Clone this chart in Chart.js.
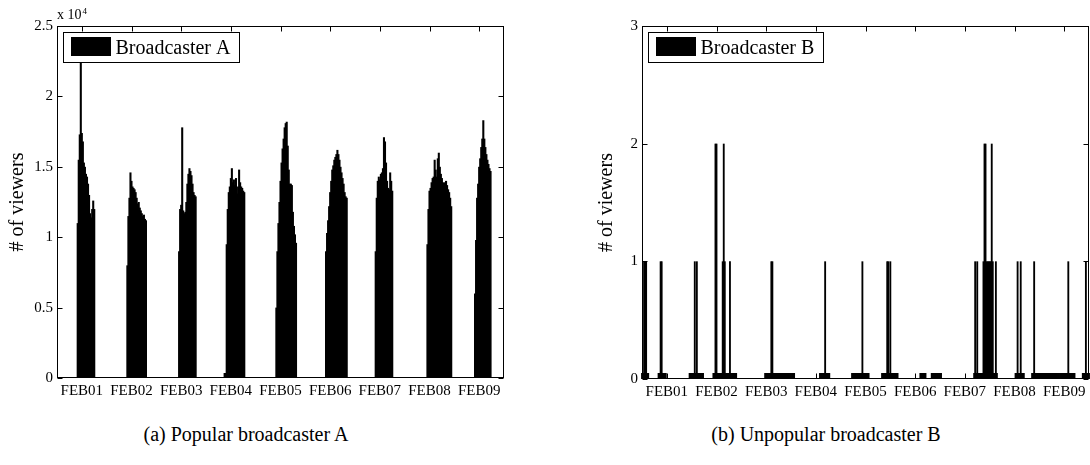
<!DOCTYPE html>
<html>
<head>
<meta charset="utf-8">
<script src="https://cdn.jsdelivr.net/npm/chart.js@4.4.1/dist/chart.umd.min.js"></script>
<style>
  html, body { margin: 0; padding: 0; background: #fff; }
  body { width: 1090px; height: 465px; position: relative; overflow: hidden; font-family: 'Liberation Serif', 'Times New Roman', serif; }
  .panel { position: absolute; top: 0; }
  .panel canvas { display: block; }
  .caption { position: absolute; top: 423px; font-size: 20px; white-space: nowrap; transform: translateX(-50%); color: #000; }
</style>
</head>
<body>
<div class="panel" style="left:0"><canvas id="chartA" width="540" height="400"></canvas></div>
<div class="panel" style="left:585px"><canvas id="chartB" width="505" height="400"></canvas></div>
<div class="caption" style="left:246px">(a) Popular broadcaster A</div>
<div class="caption" style="left:826px">(b) Unpopular broadcaster B</div>
<script>
// ---- data ----
const dayTicks = [1, 2, 3, 4, 5, 6, 7, 8, 9];
const dayLabels = ['FEB01', 'FEB02', 'FEB03', 'FEB04', 'FEB05', 'FEB06', 'FEB07', 'FEB08', 'FEB09'];

// Broadcaster A: start hour of each session (hours from JAN31 00:00), viewers every 30 min
const aStartHour = [22, 46, 71, 93, 118, 142, 166, 191, 214];
const aDay1 = [11000, 15500, 17300, 22500, 17400, 16800, 15300, 15000, 14500, 14300, 13800, 13000, 11700, 11400, 12000, 12600, 12000];
const aDay2 = [8000, 11500, 12800, 14600, 14000, 13600, 13500, 13400, 13200, 12800, 12400, 12500, 12100, 11900, 11700, 11500, 11600, 11300, 11200];
const aDay3 = [9000, 12000, 12300, 17800, 11900, 11700, 11800, 12500, 13800, 14500, 14900, 14700, 14400, 13800, 13200, 13000, 12900];
const aDay4 = [0, 0, 9500, 12000, 13200, 13600, 14200, 14900, 13900, 14100, 13700, 14200, 13100, 13600, 14800, 13900, 13600, 13500, 13300, 13200];
const aDay5 = [5000, 9000, 11000, 12500, 14000, 15300, 16300, 17000, 17800, 18100, 18200, 16500, 14800, 13800, 13800, 13700, 11800, 10800, 10200, 9600];
const aDay6 = [9000, 10300, 11200, 12200, 13200, 14000, 14800, 15100, 15500, 15700, 15900, 16200, 15900, 15500, 15000, 14600, 14200, 13800, 13200, 12900, 12800];
const aDay7 = [9000, 12800, 14000, 14300, 14100, 14500, 14600, 14900, 17100, 16800, 15300, 14000, 13500, 13400, 14600, 14000, 13300];
const aDay8 = [9500, 12000, 13300, 13500, 13900, 14200, 14300, 15500, 14800, 14300, 15600, 16000, 15000, 14500, 14200, 13900, 13600, 13900, 14000, 13700, 13400, 13200, 12800, 12200];
const aDay9 = [6000, 9800, 12800, 13800, 15000, 15600, 16400, 17000, 18300, 17000, 16400, 15900, 15500, 15200, 14900, 14700];
const aSessions = [aDay1, aDay2, aDay3, aDay4, aDay5, aDay6, aDay7, aDay8, aDay9];

// Broadcaster B: on-air periods (start/end hour) and the 30-min slots that had viewers
const bOnStart = [12, 20, 35, 46.5, 71.5, 98, 113.5, 128, 146.5, 152, 172.5, 192.5, 200.5, 225];
const bOnEnd = [15, 23.5, 41.5, 57.5, 85.5, 102.5, 121.5, 135.5, 149, 156.5, 183.5, 196.5, 221, 228];
const bHitHour = [13, 13.5, 14, 21, 21.5, 37.5, 38.5, 47.5, 48, 51, 51.5, 52, 54.5, 74.5, 75, 100.5, 118.5,
  130.5, 131, 132, 173, 174, 177, 177.5, 178, 178.5, 179, 179.5, 180, 180.5, 181, 181.5, 183,
  193.5, 195, 201.5, 218, 226.5];
const bHitCount = [1, 1, 1, 1, 1, 1, 1, 2, 2, 1, 2, 1, 1, 1, 1, 1, 1,
  1, 1, 1, 1, 1, 1, 2, 2, 1, 1, 1, 1, 1, 2, 1, 1,
  1, 1, 1, 1, 1];

// ---- build points (x in days) ----
const pointsA = [];
aSessions.forEach((vals, i) => {
  vals.forEach((v, j) => pointsA.push({ x: (aStartHour[i] + j * 0.5) / 24, y: v }));
});

const pointsB = [];
bOnStart.forEach((s, i) => {
  for (let h = s; h <= bOnEnd[i]; h += 0.5) {
    const k = bHitHour.indexOf(h);
    pointsB.push({ x: h / 24, y: k >= 0 ? bHitCount[k] : 0 });
  }
});

const FONT = "'Liberation Serif', 'Times New Roman', serif";
Chart.defaults.font.family = FONT;
Chart.defaults.color = '#000';

// MATLAB-like box: frame, inward ticks on all sides, boxed legend, exponent label
const axesBox = {
  id: 'axesBox',
  afterDatasetsDraw(chart, args, opts) {
    const ctx = chart.ctx;
    const a = chart.chartArea;
    const xs = chart.scales.x, ys = chart.scales.y;
    const L = Math.round(a.left) + 0.5, R = Math.round(a.right) - 0.5;
    const T = Math.round(a.top) + 0.5, B = Math.round(a.bottom) - 0.5;
    ctx.save();
    ctx.strokeStyle = '#000';
    ctx.lineWidth = 1;
    ctx.strokeRect(L, T, R - L, B - T);
    ctx.beginPath();
    xs.ticks.forEach(t => {
      const px = Math.round(xs.getPixelForValue(t.value)) + 0.5;
      ctx.moveTo(px, T); ctx.lineTo(px, T + 5);
      ctx.moveTo(px, B); ctx.lineTo(px, B - 5);
    });
    ys.ticks.forEach(t => {
      const py = Math.round(ys.getPixelForValue(t.value)) + 0.5;
      ctx.moveTo(L, py); ctx.lineTo(L + 5, py);
      ctx.moveTo(R, py); ctx.lineTo(R - 5, py);
    });
    ctx.stroke();

    // legend
    const ds = chart.data.datasets[0];
    ctx.font = '20px ' + FONT;
    const tw = ctx.measureText(ds.label).width;
    const bx = L + 6, by = T + 6, bw = Math.round(61 + tw), bh = 30;
    ctx.fillStyle = '#fff';
    ctx.fillRect(bx, by, bw, bh);
    ctx.strokeRect(bx, by, bw, bh);
    ctx.fillStyle = ds.backgroundColor;
    ctx.fillRect(bx + 7.5, by + 4.5, 40, 19);
    ctx.fillStyle = '#000';
    ctx.textAlign = 'left';
    ctx.textBaseline = 'alphabetic';
    ctx.fillText(ds.label, bx + 52, by + 21);

    if (opts.exponent) {
      ctx.font = '14px ' + FONT;
      ctx.fillText('x 10', a.left, a.top - 7);
      const w = ctx.measureText('x 10').width;
      ctx.font = '9px ' + FONT;
      ctx.fillText(opts.exponent, a.left + w + 1, a.top - 12);
    }
    ctx.restore();
  }
};

function makeChart(id, label, points, yMax, yStep, yFmt, exponent, xHeight, padRight, barPct, zeroMark, titlePad) {
  return new Chart(document.getElementById(id), {
    type: 'bar',
    data: {
      datasets: [{
        label: label,
        data: points,
        backgroundColor: '#000',
        borderWidth: 0,
        barPercentage: barPct,
        categoryPercentage: 1,
        minBarLength: zeroMark,
        clip: false
      }]
    },
    options: {
      responsive: false,
      animation: false,
      layout: { padding: { left: 0, top: 26, right: padRight, bottom: 0 } },
      plugins: {
        legend: { display: false },
        tooltip: { enabled: false },
        axesBox: { exponent: exponent }
      },
      scales: {
        x: {
          type: 'linear',
          offset: false,
          min: 0.5,
          max: 9.5,
          grid: { display: false, drawTicks: false },
          border: { display: false },
          afterBuildTicks: s => { s.ticks = dayTicks.map(v => ({ value: v })); },
          afterFit: s => { s.height = xHeight; },
          ticks: {
            autoSkip: false,
            maxRotation: 0,
            padding: 4,
            font: { size: 15 },
            color: '#000',
            callback: (v, i) => dayLabels[i]
          }
        },
        y: {
          min: 0,
          max: yMax,
          grid: { display: false, drawTicks: false },
          border: { display: false },
          afterFit: s => { s.width = 57; },
          title: {
            display: true,
            text: '# of viewers',
            color: '#000',
            font: { size: 20 },
            padding: { top: titlePad, bottom: 0 }
          },
          ticks: {
            stepSize: yStep,
            padding: 4,
            font: { size: 15 },
            color: '#000',
            callback: yFmt
          }
        }
      }
    },
    plugins: [axesBox]
  });
}

makeChart('chartA', 'Broadcaster A', pointsA, 25000, 5000, v => String(v / 10000), '4', 22, 36, 2.0, 5, 6);
makeChart('chartB', 'Broadcaster B', pointsB, 3, 1, v => String(v), null, 21, 1, 1.8, 6, 10);
</script>
</body>
</html>
